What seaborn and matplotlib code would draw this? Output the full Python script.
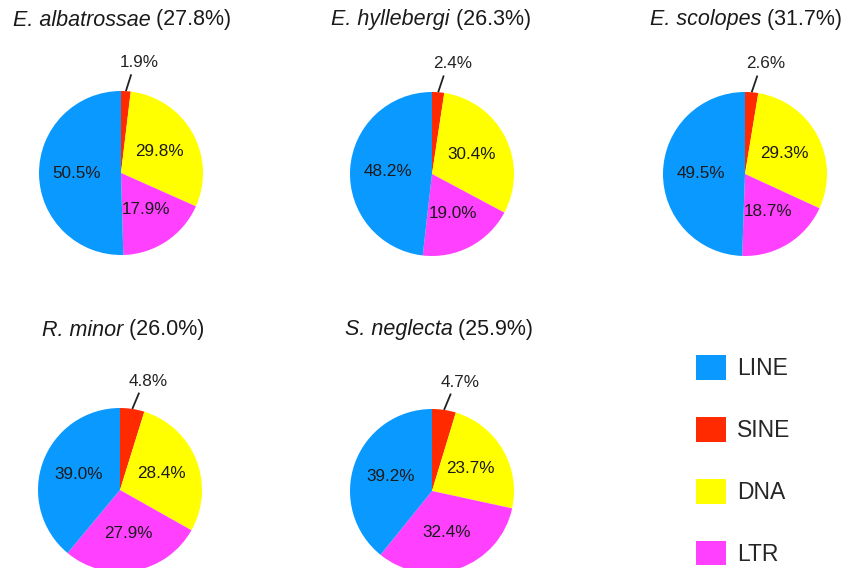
import numpy as np
import matplotlib
matplotlib.use('Agg')
import matplotlib.pyplot as plt
import matplotlib.patches as mpatches
import seaborn as sns

# Repeat composition per species (% of all TEs), genome share in title
species = ['E. albatrossae', 'E. hyllebergi', 'E. scolopes', 'R. minor', 'S. neglecta']
genome_pct = ['27.8', '26.3', '31.7', '26.0', '25.9']
te_classes = ['LINE', 'SINE', 'DNA', 'LTR']
line_pct = [50.5, 48.2, 49.5, 39.0, 39.2]
sine_pct = [1.9, 2.4, 2.6, 4.8, 4.7]
dna_pct = [29.8, 30.4, 29.3, 28.4, 23.7]
ltr_pct = [17.9, 19.0, 18.7, 27.9, 32.4]

colors = {'LINE': '#0A99FF', 'SINE': '#FF2A00', 'DNA': '#FFFF00', 'LTR': '#FF40FF'}

sns.set_theme(style='white')
plt.rcParams['font.family'] = ['Liberation Sans', 'DejaVu Sans']

W, H = 843, 568
fig = plt.figure(figsize=(W / 100, H / 100), dpi=100)
renderer = fig.canvas.get_renderer()

# pie centres / radius in pixels, title centre x
centres = [(121, 173), (432, 174), (745, 174), (120, 490), (432, 491)]
title_x = [122, 431, 746, 123, 439]
R = 82
L = 2.0  # axes half-extent in radius units
PCT_FS = 12.3
TITLE_FS = 15.5


def pie_axes(cx, cy):
    half = L * R
    return fig.add_axes([(cx - half) / W, 1 - (cy + half) / H, 2 * half / W, 2 * half / H])


for i, sp in enumerate(species):
    cx, cy = centres[i]
    ax = pie_axes(cx, cy)
    vals = [sine_pct[i], dna_pct[i], ltr_pct[i], line_pct[i]]
    names = ['SINE', 'DNA', 'LTR', 'LINE']
    wedges, _ = ax.pie(vals, colors=[colors[n] for n in names], startangle=90,
                       counterclock=False, radius=1,
                       wedgeprops=dict(linewidth=0))
    for w, v, n in zip(wedges, vals, names):
        mid = np.deg2rad((w.theta1 + w.theta2) / 2)
        if n == 'SINE':
            t = mid - np.deg2rad(6)
            ax.plot([1.0 * np.cos(mid), 1.21 * np.cos(mid - np.deg2rad(2.5))],
                    [1.0 * np.sin(mid), 1.21 * np.sin(mid - np.deg2rad(2.5))],
                    color='#222222', lw=1.3, solid_capstyle='butt')
            ax.text(1.37 * np.cos(t), 1.37 * np.sin(t), f'{v}%', ha='center',
                    va='center', fontsize=PCT_FS, color='#222222')
        else:
            ax.text(0.54 * np.cos(mid), 0.54 * np.sin(mid), f'{v}%', ha='center',
                    va='center', fontsize=PCT_FS, color='#1a1a1a')
    ax.set_xlim(-L, L)
    ax.set_ylim(-L, L)
    ax.set_aspect('equal')
    ax.axis('off')

    # title: italic species name + upright genome share, centred as a whole
    ty = 1 - (20 if i < 3 else 330) / H
    t1 = fig.text(0, ty, sp, style='italic', fontsize=TITLE_FS, va='center', color='#1a1a1a')
    t2 = fig.text(0, ty, ' (' + genome_pct[i] + '%)', fontsize=TITLE_FS, va='center', color='#1a1a1a')
    w1 = t1.get_window_extent(renderer).width
    w2 = t2.get_window_extent(renderer).width
    x0 = title_x[i] - (w1 + w2) / 2
    t1.set_x(x0 / W)
    t2.set_x((x0 + w1) / W)

handles = [mpatches.Patch(facecolor=colors[c], edgecolor='none', label=c) for c in te_classes]
leg = fig.legend(handles=handles, loc='upper left', bbox_to_anchor=(696 / W, 1 - 355 / H),
                 frameon=False, fontsize=16.5, handlelength=1.3, handleheight=1.3,
                 handletextpad=0.5, labelspacing=1.6, borderpad=0, borderaxespad=0)

fig.savefig('out.png', dpi=100)
